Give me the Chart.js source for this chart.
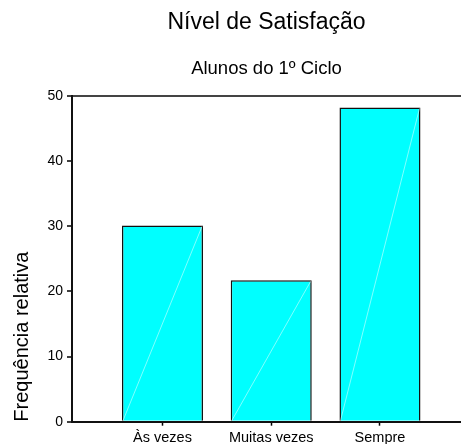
<!DOCTYPE html>
<html>
<head>
<meta charset="utf-8">
<script src="https://cdn.jsdelivr.net/npm/chart.js@4/dist/chart.umd.min.js"></script>
<style>
  html, body { margin: 0; padding: 0; background: #fff; overflow: hidden; }
  #wrap { position: relative; width: 461px; height: 444px; }
</style>
</head>
<body>
<div id="wrap"><canvas id="c"></canvas></div>
<script>
const categories = ['Às vezes', 'Muitas vezes', 'Sempre'];
const values = [30.1, 21.7, 48.2];
const yTickValues = [0, 10, 20, 30, 40, 50];
const chartTitle = 'Nível de Satisfação';
const chartSubtitle = 'Alunos do 1º Ciclo';
const yAxisTitle = 'Frequência relativa';

const FONT = "'Liberation Sans', Arial, Helvetica, sans-serif";

const diagonalPlugin = {
  id: 'diagonal',
  afterDatasetsDraw(chart) {
    const ctx = chart.ctx;
    const meta = chart.getDatasetMeta(0);
    ctx.save();
    ctx.strokeStyle = 'rgba(255,255,255,0.5)';
    ctx.lineWidth = 1;
    meta.data.forEach(bar => {
      const p = bar.getProps(['x', 'y', 'base', 'width'], true);
      ctx.beginPath();
      ctx.moveTo(p.x - p.width / 2 + 1, p.base);
      ctx.lineTo(p.x + p.width / 2 - 1, p.y + 1);
      ctx.stroke();
    });
    ctx.restore();
  }
};

new Chart(document.getElementById('c'), {
  type: 'bar',
  data: {
    datasets: [{
      data: categories.map((c, i) => ({ x: i, y: values[i] })),
      backgroundColor: '#00FFFF',
      borderColor: '#111111',
      borderWidth: 1.5,
      barPercentage: 0.745,
      categoryPercentage: 1
    }]
  },
  options: {
    responsive: true,
    maintainAspectRatio: false,
    animation: false,
    devicePixelRatio: 1,
    layout: { padding: { left: 0, right: 0, top: 0, bottom: 0 } },
    plugins: {
      legend: { display: false },
      tooltip: { enabled: false },
      title: {
        display: true,
        fullSize: false,
        text: chartTitle,
        color: '#000',
        font: { family: FONT, size: 23, weight: 'normal' },
        padding: { top: 8.9, bottom: 0 }
      },
      subtitle: {
        display: true,
        fullSize: false,
        text: chartSubtitle,
        color: '#000',
        font: { family: FONT, size: 18.5, weight: 'normal' },
        padding: { top: 21, bottom: 16 }
      }
    },
    scales: {
      x: {
        type: 'linear',
        offset: false,
        min: -0.832,
        max: 2.745,
        afterBuildTicks: (scale) => { scale.ticks = categories.map((c, i) => ({ value: i })); },
        afterFit: (scale) => { scale.height = 22.3; },
        ticks: {
          autoSkip: false,
          maxRotation: 0,
          padding: 3.5,
          color: '#000',
          font: { family: FONT, size: 14.5 },
          callback: (v) => categories[v]
        },
        grid: {
          offset: false,
          drawOnChartArea: false,
          drawTicks: true,
          tickLength: 4,
          tickColor: '#000',
          tickWidth: 1.5
        },
        border: { display: true, color: '#111', width: 2 }
      },
      y: {
        min: 0,
        max: 50,
        afterBuildTicks: (scale) => { scale.ticks = yTickValues.map(v => ({ value: v })); },
        afterFit: (scale) => { scale.width = 72; },
        ticks: {
          padding: 4,
          color: '#000',
          font: { family: FONT, size: 14 }
        },
        grid: {
          drawOnChartArea: true,
          color: (ctx) => (ctx.tick && ctx.tick.value === 50 ? '#444' : 'rgba(0,0,0,0)'),
          lineWidth: 2,
          drawTicks: true,
          tickLength: 5,
          tickColor: '#000',
          tickWidth: 1.5
        },
        border: { display: true, color: '#111', width: 2 },
        title: {
          display: true,
          text: yAxisTitle,
          align: 'start',
          color: '#000',
          font: { family: FONT, size: 20, weight: 'normal' },
          padding: { top: 10.4, bottom: 0 }
        }
      }
    }
  },
  plugins: [diagonalPlugin]
});
</script>
</body>
</html>
